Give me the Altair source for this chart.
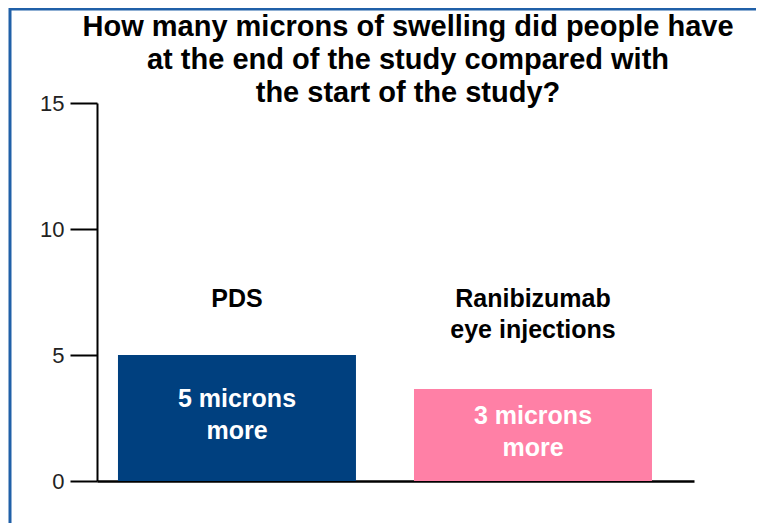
import altair as alt
import pandas as pd

categories = ["PDS", "Ranibizumab eye injections"]
label_lines = [["PDS"], ["Ranibizumab", "eye injections"]]
values = [5.0, 3.65]
inner_text = [["5 microns", "more"], ["3 microns", "more"]]
colors = ["#00407F", "#FF80A6"]
y_ticks = [0, 5, 10, 15]
title_lines = [
    "How many microns of swelling did people have",
    "at the end of the study compared with",
    "the start of the study?",
]

df = pd.DataFrame({
    "cat": categories,
    "value": values,
    "label": label_lines,
    "inner": inner_text,
    "color": colors,
})

FONT = "Liberation Sans"

x_enc = alt.X("cat:N", sort=categories,
              scale=alt.Scale(paddingInner=0.196, paddingOuter=0.1064, align=0.333),
              axis=alt.Axis(labels=False, ticks=False, title=None, domain=True,
                            domainColor="#000000", domainWidth=2.5))

base = alt.Chart(df)

bars = base.mark_bar().encode(
    x=x_enc,
    y=alt.Y("value:Q", scale=alt.Scale(domain=[0, 15], nice=False),
            axis=alt.Axis(values=y_ticks, title=None, grid=False, domainColor="#000000",
                          domainWidth=2, tickColor="#000000", tickWidth=2, tickSize=27,
                          labelFont=FONT, labelFontSize=22, labelColor="#222222",
                          labelPadding=6)),
    color=alt.Color("color:N", scale=None),
)

top_labels = base.mark_text(font=FONT, fontSize=25, fontWeight="bold", color="#000000",
                            baseline="alphabetic", lineHeight=31).encode(
    x=alt.X("cat:N", sort=categories),
    y=alt.value(204),
    text="label",
)

inner_labels = base.transform_calculate(mid="datum.value / 2").mark_text(
    font=FONT, fontSize=25, fontWeight="bold", color="#FFFFFF",
    baseline="middle", lineHeight=32, dy=-19).encode(
    x=alt.X("cat:N", sort=categories),
    y="mid:Q",
    text="inner",
)

title_df = pd.DataFrame({"t": [title_lines]})
title = alt.Chart(title_df).mark_text(
    font=FONT, fontSize=29, fontWeight="bold", color="#000000",
    baseline="alphabetic", align="center", lineHeight=33).encode(
    x=alt.value(311), y=alt.value(-67), text="t")

border_df = pd.DataFrame({"b": [0]})
border_left = alt.Chart(border_df).mark_rule(color="#2060A8", strokeWidth=3).encode(
    x=alt.value(-87), y=alt.value(-95), y2=alt.value(440))
border_top = alt.Chart(border_df).mark_rule(color="#2060A8", strokeWidth=3).encode(
    x=alt.value(-87), x2=alt.value(680), y=alt.value(-94))

chart = alt.layer(bars, top_labels, inner_labels, title, border_left, border_top).properties(
    width=597,
    height=378,
    padding={"left": 89, "top": 95, "right": 62, "bottom": 42},
    autosize=alt.AutoSizeParams(type="none"),
    background="white",
).configure_view(stroke=None)

chart.save("out.html", embed_options={"renderer": "svg", "actions": False})
